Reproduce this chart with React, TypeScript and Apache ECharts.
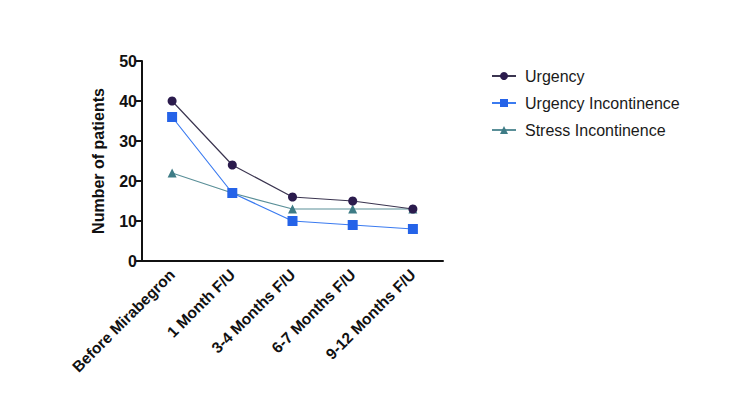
import React, { useEffect, useRef } from "react";
import * as echarts from "echarts";

const categories = ["Before Mirabegron", "1 Month F/U", "3-4 Months F/U", "6-7 Months F/U", "9-12 Months F/U"];
const urgency = [40, 24, 16, 15, 13];
const urgencyIncontinence = [36, 17, 10, 9, 8];
const stressIncontinence = [22, 17, 13, 13, 13];
const yTicks = { min: 0, max: 50, interval: 10 };

export default function App() {
  const ref = useRef<HTMLDivElement>(null);
  useEffect(() => {
    document.body.style.margin = "0";
    const chart = echarts.init(ref.current!, null, { renderer: "svg" });
    const font = "Liberation Sans, Arial, sans-serif";
    chart.setOption({
      animation: false,
      backgroundColor: "#ffffff",
      grid: { left: 142, right: 307, top: 61, bottom: 149, containLabel: false },
      legend: {
        orient: "vertical",
        left: 486,
        top: 63,
        itemGap: 11,
        itemWidth: 24,
        itemHeight: 10,
        textStyle: { fontFamily: font, fontSize: 16, color: "#1a1a1a", padding: [0, 0, 0, 4] },
        data: ["Urgency", "Urgency Incontinence", "Stress Incontinence"],
      },
      xAxis: {
        type: "category",
        data: categories,
        boundaryGap: true,
        axisLine: { lineStyle: { color: "#111", width: 2 } },
        axisTick: { alignWithLabel: true, length: 6, lineStyle: { color: "#111", width: 2 } },
        axisLabel: {
          rotate: 45,
          interval: 0,
          margin: 11,
          fontFamily: font,
          fontSize: 15.5,
          fontWeight: "bold",
          color: "#111",
        },
      },
      yAxis: {
        type: "value",
        min: yTicks.min,
        max: yTicks.max,
        interval: yTicks.interval,
        name: "Number of patients",
        nameLocation: "middle",
        nameGap: 36,
        nameTextStyle: { fontFamily: font, fontSize: 16, fontWeight: "bold", color: "#111" },
        splitLine: { show: false },
        axisLine: { show: true, lineStyle: { color: "#111", width: 2 } },
        axisTick: { show: true, length: 6, lineStyle: { color: "#111", width: 2 } },
        axisLabel: { fontFamily: font, fontSize: 16, fontWeight: "bold", color: "#111", margin: 5 },
      },
      series: [
        {
          name: "Urgency",
          type: "line",
          data: urgency,
          symbol: "circle",
          symbolSize: 9,
          itemStyle: { color: "#2b1b4d" },
          lineStyle: { color: "#3b3550", width: 1.2 },
          z: 3,
        },
        {
          name: "Urgency Incontinence",
          type: "line",
          data: urgencyIncontinence,
          symbol: "rect",
          symbolSize: 10,
          itemStyle: { color: "#2563e8" },
          lineStyle: { color: "#3b7bf0", width: 1.2 },
          z: 4,
        },
        {
          name: "Stress Incontinence",
          type: "line",
          data: stressIncontinence,
          symbol: "triangle",
          symbolSize: 9,
          itemStyle: { color: "#3e7c86" },
          lineStyle: { color: "#5a8f98", width: 1.2 },
          z: 2,
        },
      ],
    });
    return () => chart.dispose();
  }, []);
  return <div ref={ref} style={{ width: 750, height: 410 }} />;
}
